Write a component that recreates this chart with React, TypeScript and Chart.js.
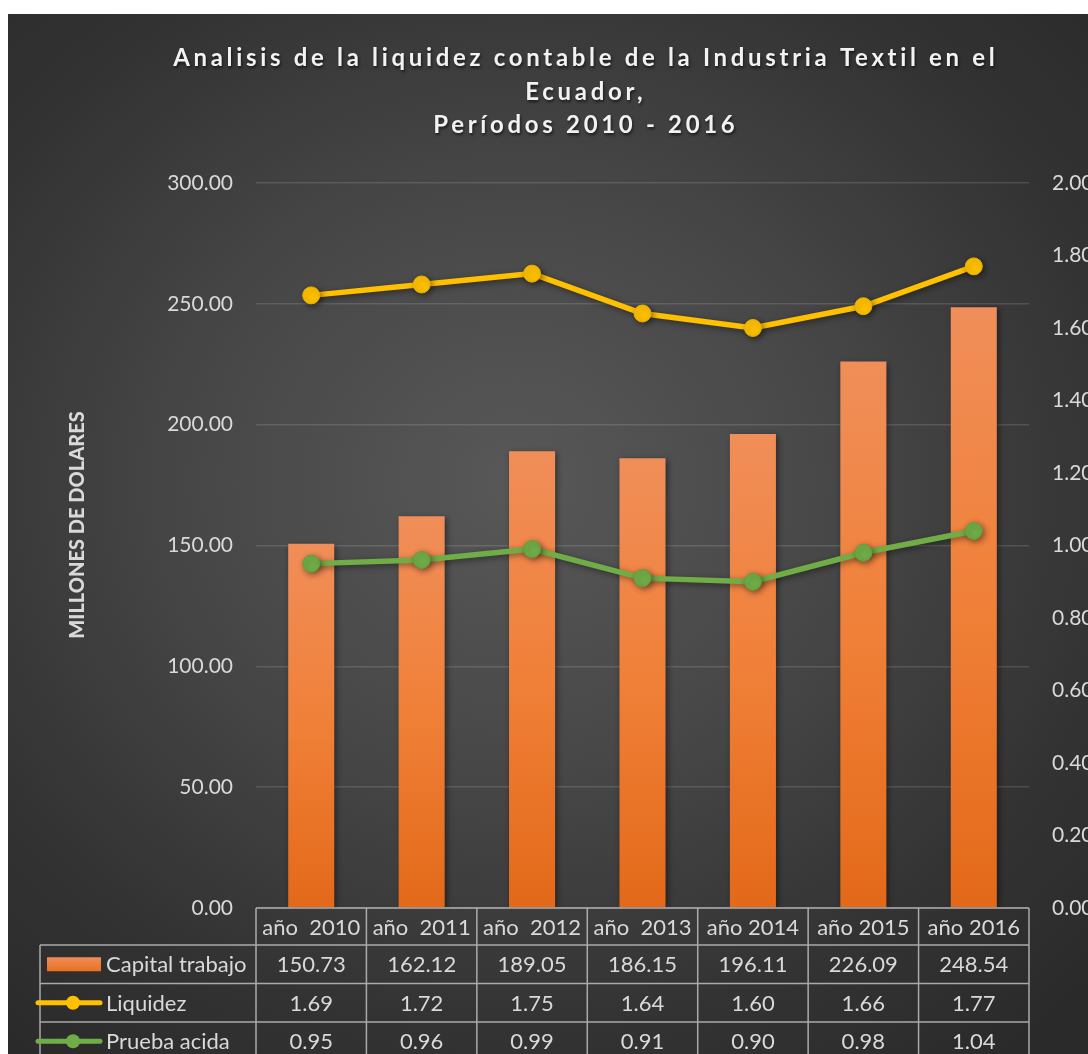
import React, { useEffect, useRef } from 'react';
import { Chart, registerables } from 'chart.js';

Chart.register(...registerables);

const categories = ['año  2010', 'año  2011', 'año  2012', 'año  2013', 'año 2014', 'año 2015', 'año 2016'];
const capitalTrabajo = [150.73, 162.12, 189.05, 186.15, 196.11, 226.09, 248.54];
const liquidez = [1.69, 1.72, 1.75, 1.64, 1.6, 1.66, 1.77];
const pruebaAcida = [0.95, 0.96, 0.99, 0.91, 0.9, 0.98, 1.04];
const seriesNames = ['Capital trabajo', 'Liquidez', 'Prueba acida'];
const titleLines = [
  'Analisis de la liquidez contable de la Industria Textil en el',
  'Ecuador,',
  'Períodos 2010 - 2016',
];
const yAxisTitle = 'MILLONES DE DOLARES';

const FONT = 'Lato, "Open Sans", sans-serif';
const TEXT = '#d9d9d9';
const ORANGE = '#ED7D31';
const YELLOW = '#FFC000';
const GREEN = '#70AD47';

const W = 1080;
const H = 1040;

const decorPlugin = {
  id: 'decor',
  beforeDatasetsDraw(chart: any) {
    const ctx = chart.ctx;
    ctx.save();
    ctx.shadowColor = 'rgba(0,0,0,0.45)';
    ctx.shadowBlur = 6;
    ctx.shadowOffsetX = 2;
    ctx.shadowOffsetY = 2;
  },
  afterDatasetsDraw(chart: any) {
    chart.ctx.restore();
  },
  afterDraw(chart: any) {
    const ctx = chart.ctx;
    const xs = chart.scales.x;
    const ys = chart.scales.y;

    // Title
    ctx.save();
    ctx.fillStyle = '#f2f2f2';
    ctx.textAlign = 'center';
    ctx.textBaseline = 'middle';
    ctx.shadowColor = 'rgba(0,0,0,0.6)';
    ctx.shadowBlur = 3;
    ctx.shadowOffsetX = 1;
    ctx.shadowOffsetY = 2;
    ctx.font = `bold 24px ${FONT}`;
    const target = 822;
    const line0 = titleLines[0];
    (ctx as any).letterSpacing = '0px';
    const raw = ctx.measureText(line0).width;
    const sp = Math.max(0, (target - raw) / (line0.length - 1));
    (ctx as any).letterSpacing = `${sp}px`;
    const tys = [44, 78, 111];
    titleLines.forEach((t, i) => {
      ctx.fillText(t, 576 + sp / 2, tys[i]);
    });
    ctx.restore();

    // Y axis title
    ctx.save();
    ctx.translate(70, 511);
    ctx.rotate(-Math.PI / 2);
    ctx.fillStyle = TEXT;
    ctx.font = `900 20px ${FONT}`;
    ctx.textAlign = 'center';
    ctx.textBaseline = 'middle';
    ctx.fillText(yAxisTitle, 0, 0);
    ctx.restore();

    // Data table
    const n = categories.length;
    const cw = xs.getPixelForValue(1) - xs.getPixelForValue(0);
    const left = xs.getPixelForValue(0) - cw / 2;
    const right = xs.getPixelForValue(n - 1) + cw / 2;
    const top = ys.getPixelForValue(0);
    const headerH = 37;
    const rowH = 38.5;
    const legendLeft = 32;
    const rowTops = [top + headerH, top + headerH + rowH, top + headerH + 2 * rowH];
    const bottom = top + headerH + 3 * rowH;

    ctx.save();
    ctx.strokeStyle = 'rgba(200,200,200,0.8)';
    ctx.lineWidth = 1.5;
    ctx.beginPath();
    ctx.moveTo(left, top);
    ctx.lineTo(right, top);
    rowTops.forEach((y) => {
      ctx.moveTo(legendLeft, y);
      ctx.lineTo(right, y);
    });
    for (let i = 0; i <= n; i++) {
      const x = left + i * cw;
      ctx.moveTo(x, top);
      ctx.lineTo(x, bottom);
    }
    ctx.moveTo(legendLeft, rowTops[0]);
    ctx.lineTo(legendLeft, bottom);
    ctx.stroke();

    ctx.fillStyle = TEXT;
    ctx.font = `22px ${FONT}`;
    ctx.textAlign = 'center';
    ctx.textBaseline = 'middle';
    categories.forEach((c, i) => {
      ctx.fillText(c, xs.getPixelForValue(i), top + headerH / 2 + 1);
    });
    const rows = [capitalTrabajo, liquidez, pruebaAcida];
    rows.forEach((vals, r) => {
      const cy = rowTops[r] + rowH / 2 + 1;
      vals.forEach((v, i) => {
        ctx.fillText(v.toFixed(2), xs.getPixelForValue(i), cy);
      });
    });

    // legend keys
    ctx.textAlign = 'left';
    rows.forEach((_, r) => {
      const cy = rowTops[r] + rowH / 2;
      if (r === 0) {
        const g = ctx.createLinearGradient(0, cy - 7, 0, cy + 7);
        g.addColorStop(0, '#F08D57');
        g.addColorStop(1, '#E8711F');
        ctx.fillStyle = g;
        ctx.fillRect(39, cy - 7, 54, 14);
      } else {
        const col = r === 1 ? YELLOW : GREEN;
        ctx.strokeStyle = col;
        ctx.lineWidth = 5;
        ctx.lineCap = 'round';
        ctx.beginPath();
        ctx.moveTo(30, cy);
        ctx.lineTo(92, cy);
        ctx.stroke();
        ctx.fillStyle = col;
        ctx.beginPath();
        ctx.arc(65, cy, 7, 0, Math.PI * 2);
        ctx.fill();
      }
      ctx.fillStyle = TEXT;
      ctx.fillText(seriesNames[r], 98, cy + 1);
    });
    ctx.restore();
  },
};

export default function App() {
  const ref = useRef<HTMLCanvasElement | null>(null);

  useEffect(() => {
    if (!ref.current) return;
    const chart = new Chart(ref.current, {
      type: 'bar',
      data: {
        labels: categories,
        datasets: [
          {
            type: 'bar',
            label: seriesNames[0],
            data: capitalTrabajo,
            yAxisID: 'y',
            order: 3,
            categoryPercentage: 1,
            barPercentage: 0.417,
            backgroundColor: (c: any) => {
              const chart = c.chart;
              const ys = chart.scales && chart.scales.y;
              if (!ys || c.type !== 'data' || c.raw == null) return ORANGE;
              const t = ys.getPixelForValue(c.raw);
              const b = ys.getPixelForValue(0);
              if (!isFinite(t) || !isFinite(b)) return ORANGE;
              const g = chart.ctx.createLinearGradient(0, t, 0, b);
              g.addColorStop(0, '#F08E59');
              g.addColorStop(0.5, '#F08038');
              g.addColorStop(1, '#E36919');
              return g;
            },
            borderWidth: 0,
          } as any,
          {
            type: 'line',
            label: seriesNames[1],
            data: liquidez,
            yAxisID: 'y1',
            order: 1,
            borderColor: YELLOW,
            backgroundColor: YELLOW,
            borderWidth: 5.5,
            pointRadius: 8.5,
            pointBorderColor: '#E8B000',
            pointBorderWidth: 1,
            pointBackgroundColor: YELLOW,
            tension: 0,
          } as any,
          {
            type: 'line',
            label: seriesNames[2],
            data: pruebaAcida,
            yAxisID: 'y1',
            order: 2,
            borderColor: GREEN,
            backgroundColor: GREEN,
            borderWidth: 5.5,
            pointRadius: 8.5,
            pointBorderColor: '#63A03C',
            pointBorderWidth: 1,
            pointBackgroundColor: GREEN,
            tension: 0,
          } as any,
        ],
      },
      options: {
        responsive: false,
        animation: false,
        devicePixelRatio: 1,
        layout: { padding: { left: 0, right: 0, top: 169, bottom: H - 894 } },
        plugins: {
          legend: { display: false },
          tooltip: { enabled: false },
          title: { display: false },
        },
        scales: {
          x: {
            display: false,
            offset: true,
            grid: { display: false },
          },
          y: {
            position: 'left',
            min: 0,
            max: 300,
            afterFit: (s: any) => {
              s.width = 248;
            },
            ticks: {
              stepSize: 50,
              padding: 23,
              color: TEXT,
              font: { family: FONT, size: 21 },
              callback: (v: any) => Number(v).toFixed(2),
            },
            grid: { color: 'rgba(255,255,255,0.13)', lineWidth: 1.5, drawTicks: false },
            border: { display: false },
          },
          y1: {
            position: 'right',
            min: 0,
            max: 2,
            afterFit: (s: any) => {
              s.width = W - 1021;
            },
            ticks: {
              stepSize: 0.2,
              padding: 23,
              color: TEXT,
              font: { family: FONT, size: 21 },
              callback: (v: any) => Number(v).toFixed(2),
            },
            grid: { display: false, drawTicks: false },
            border: { display: false },
          },
        },
      },
      plugins: [decorPlugin],
    } as any);
    return () => chart.destroy();
  }, []);

  return (
    <div
      style={{
        position: 'fixed',
        left: 8,
        top: 14,
        width: W,
        height: H,
        background:
          'radial-gradient(ellipse 75% 70% at 47% 45%, #585858 0%, #474747 40%, #333333 75%, #2a2a2a 100%)',
      }}
    >
      <canvas ref={ref} width={W} height={H} style={{ display: 'block', width: W, height: H }} />
    </div>
  );
}
